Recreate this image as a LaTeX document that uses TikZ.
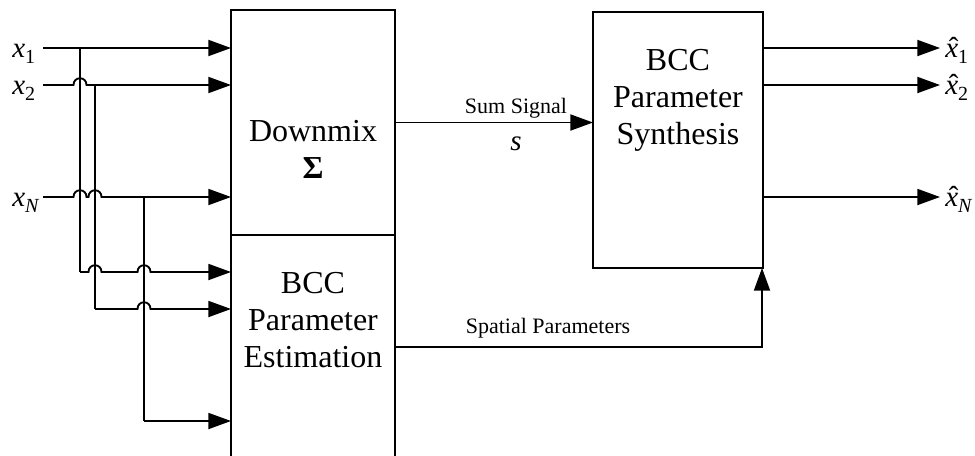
\documentclass[tikz,border=0pt]{standalone}
\usepackage{fontspec}
\setmainfont{Liberation Serif}
\usetikzlibrary{arrows.meta}

% a small semicircular hop where a wire passes over a vertical wire at (#1,#2)
\newcommand\hopover[2]{-- (#1-6.5,#2) .. controls (#1-6.5,#2-9) and (#1+6.5,#2-9) .. (#1+6.5,#2)}
% signal names with lowered subscripts
\newcommand\sigsub[1]{\raisebox{-5pt}{\fontsize{15}{15}\selectfont #1}}
\newcommand\sigx[1]{\textit{x}\sigsub{#1}}
\newcommand\hatx{\ooalign{\textit{x}\cr\hidewidth\kern0.14em\raisebox{-0.02em}{ˆ}\hidewidth\cr}}
\newcommand\sighat[1]{\hatx\sigsub{#1}}

\begin{document}
\begin{tikzpicture}[x=0.75pt, y=-0.75pt,
  box/.style={draw, line width=1.4pt, inner sep=0pt, outer sep=0pt},
  wire/.style={line width=1.4pt},
  feed/.style={wire, -{Triangle[length=17pt,width=12pt]}},
  boxtext/.style={font=\fontsize{24}{27.75}\selectfont, align=center, inner sep=0pt},
  tag/.style={font=\fontsize{16.5}{18}\selectfont, inner sep=0pt},
  var/.style={font=\fontsize{21.75}{24}\selectfont, anchor=base west, inner sep=0pt}]

\useasboundingbox (0,0) rectangle (975,455);
\clip (0,0) rectangle (975,455);

% blocks
\node[box, minimum width=123pt, minimum height=168.75pt] (dm) at (313,122.5) {};
\node[box, minimum width=123pt, minimum height=176.25pt] (est) at (313,352.5) {};
\node[box, minimum width=127.5pt, minimum height=192pt] (syn) at (678,140) {};

\node[boxtext] (dmtext) at (313,149) {Downmix\\{\bfseries Σ}};
\node[boxtext] (esttext) at (313,320) {BCC\\Parameter\\Estimation};
\node[boxtext] (syntext) at (678,100) {BCC\\Parameter\\Synthesis};

% input wires
\coordinate (in1) at (43,48);
\coordinate (in2) at (43,85);
\coordinate (inN) at (43,197);
\coordinate (j1) at (80,48);
\coordinate (j2) at (95,85);
\coordinate (jN) at (144,197);
\coordinate (b1) at (80,272);
\coordinate (b2) at (95,309);
\coordinate (bN) at (144,421);

\draw[feed] (in1) -- (in1 -| dm.west);
\draw[feed] (in2) \hopover{80}{85} -- (in2 -| dm.west);
\draw[feed] (inN) \hopover{80}{197} \hopover{95}{197} -- (inN -| dm.west);
\draw[wire] (j1) -- (b1);
\draw[wire] (j2) -- (b2);
\draw[wire] (jN) -- (bN);
\draw[feed] (b1) \hopover{95}{272} \hopover{144}{272} -- (b1 -| est.west);
\draw[feed] (b2) \hopover{144}{309} -- (b2 -| est.west);
\draw[feed] (bN) -- (bN -| est.west);

% transmitted signals
\draw[feed] (dm.east) -- (dm.east -| syn.west);
\coordinate (sp) at (395,347);
\coordinate (spc) at (762,347);
\draw[feed] (sp) -- (spc) -- (spc |- syn.south);

% outputs
\coordinate (o1) at (940,48);
\coordinate (o2) at (940,85);
\coordinate (oN) at (940,197);
\draw[feed] (o1 -| syn.east) -- (o1);
\draw[feed] (o2 -| syn.east) -- (o2);
\draw[feed] (oN -| syn.east) -- (oN);

% labels
\node[var] (lx1) at (12,57) {\sigx{1}};
\node[var] (lx2) at (12,94) {\sigx{2}};
\node[var] (lxN) at (12,206) {\sigx{\textit{N}}};
\node[var] (lh1) at (945,57) {\sighat{1}};
\node[var] (lh2) at (945,94) {\sighat{2}};
\node[var] (lhN) at (945,206) {\sighat{\textit{N}}};

\node[tag, anchor=base] (sumtag) at (516,113) {Sum Signal};
\node[var, anchor=base] (stag) at (516,150) {\textit{s}};
\node[tag, anchor=base] (sptag) at (548,333) {Spatial Parameters};
\end{tikzpicture}
\end{document}
